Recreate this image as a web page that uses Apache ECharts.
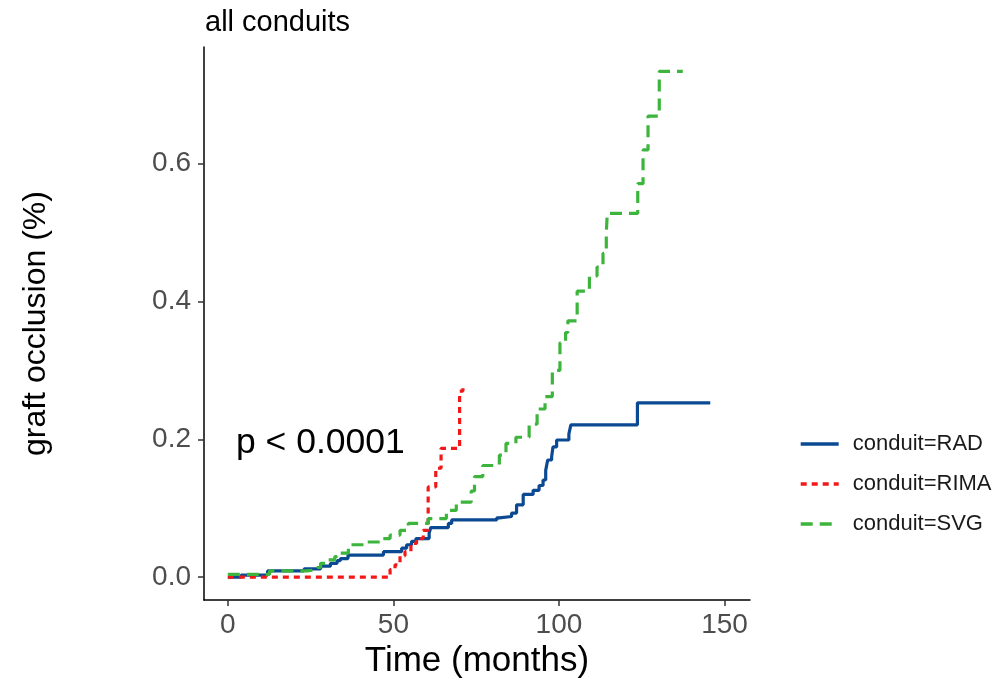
<!DOCTYPE html>
<html>
<head>
<meta charset="utf-8">
<script src="https://cdn.jsdelivr.net/npm/echarts@6/dist/echarts.min.js"></script>
<style>html,body{margin:0;padding:0;background:#fff;}#c{width:993px;height:684px;}</style>
</head>
<body>
<div id="c"></div>
<script>
// Time (months) and cumulative graft occlusion for each conduit
const radT = [0, 4, 12, 23, 28, 31, 33, 34, 36.3, 47, 52.5, 54, 55.5, 56.8, 60.8, 61.3, 66.6, 67.6, 81.2, 82, 85.7, 87.2, 89.2, 92.2, 94, 95.2, 96, 96.6, 97.8, 98.2, 99.3, 103, 103.6, 123.7, 145.7];
const radV = [0, 0.003, 0.009, 0.012, 0.016, 0.02, 0.024, 0.027, 0.032, 0.037, 0.042, 0.047, 0.052, 0.056, 0.064, 0.072, 0.078, 0.083, 0.086, 0.088, 0.093, 0.105, 0.12, 0.126, 0.133, 0.141, 0.155, 0.17, 0.175, 0.189, 0.199, 0.208, 0.221, 0.253, 0.253];
const rimaT = [0, 49, 50.5, 52, 53.5, 55.3, 57, 59, 60.5, 62.8, 64.4, 70, 71];
const rimaV = [0, 0.011, 0.018, 0.031, 0.037, 0.049, 0.056, 0.068, 0.131, 0.158, 0.187, 0.27, 0.279];
const svgT = [0, 12.6, 24, 27, 28, 30, 32.3, 33, 36.4, 41.9, 46.9, 49, 52, 54.5, 60.5, 66, 69, 73.5, 74.5, 77, 82, 84, 87, 91, 93.4, 95.8, 98, 100.3, 102, 102.7, 105.5, 109.2, 111.5, 113.3, 114.3, 114.6, 123.8, 125.4, 126.9, 130.3, 137.4];
const svgV = [0.004, 0.009, 0.011, 0.014, 0.02, 0.025, 0.03, 0.035, 0.047, 0.051, 0.056, 0.061, 0.068, 0.078, 0.085, 0.097, 0.109, 0.125, 0.146, 0.162, 0.177, 0.194, 0.203, 0.222, 0.244, 0.262, 0.30, 0.34, 0.355, 0.372, 0.415, 0.437, 0.45, 0.47, 0.50, 0.528, 0.571, 0.62, 0.669, 0.734, 0.734];
const seriesNames = ['conduit=RAD', 'conduit=RIMA', 'conduit=SVG'];
const xTicks = [0, 50, 100, 150];
const yTicks = [0, 0.2, 0.4, 0.6];

const FONT = 'Liberation Sans, Arial, Helvetica, sans-serif';
const zip = (a, b) => a.map((t, i) => [t, b[i]]);

const chart = echarts.init(document.getElementById('c'), null, {renderer: 'canvas'});
chart.setOption({
  animation: false,
  backgroundColor: '#ffffff',
  title: {
    text: 'all conduits', left: 200, top: 3,
    textStyle: {fontFamily: FONT, fontSize: 29, fontWeight: 'normal', color: '#000'}
  },
  grid: {left: 204, right: 243, top: 47, bottom: 82, containLabel: false},
  legend: {
    orient: 'vertical', left: 794, top: 428,
    itemWidth: 38, itemHeight: 14, itemGap: 18,
    data: seriesNames,
    itemStyle: {opacity: 0},
    lineStyle: {width: 3.4},
    textStyle: {fontFamily: FONT, fontSize: 22, color: '#1a1a1a', padding: [0, 0, 0, 9]}
  },
  xAxis: {
    type: 'value', min: -7.2, max: 157.7,
    name: 'Time (months)', nameLocation: 'middle', nameGap: 41,
    nameTextStyle: {fontFamily: FONT, fontSize: 35, color: '#000'},
    axisLine: {show: true, onZero: false, lineStyle: {color: '#000', width: 1.5}},
    axisTick: {show: true, length: 6, customValues: xTicks, lineStyle: {color: '#333', width: 1.5}},
    axisLabel: {customValues: xTicks, fontFamily: FONT, fontSize: 28, color: '#4D4D4D', margin: 11},
    splitLine: {show: false}
  },
  yAxis: {
    type: 'value', min: -0.0333, max: 0.7693,
    name: 'graft occlusion (%)', nameLocation: 'middle', nameGap: 152, nameRotate: 90,
    nameTextStyle: {fontFamily: FONT, fontSize: 32, color: '#000'},
    axisLine: {show: true, onZero: false, lineStyle: {color: '#000', width: 1.5}},
    axisTick: {show: true, length: 6, customValues: yTicks, lineStyle: {color: '#333', width: 1.5}},
    axisLabel: {customValues: yTicks, fontFamily: FONT, fontSize: 28, color: '#4D4D4D', margin: 13,
      formatter: v => v.toFixed(1)},
    splitLine: {show: false}
  },
  graphic: [{
    type: 'text', left: 236, top: 425,
    style: {text: 'p < 0.0001', font: '35.5px ' + FONT, fill: '#000'}
  }],
  series: [
    {name: seriesNames[0], type: 'line', step: 'end', symbol: 'none', data: zip(radT, radV),
      lineStyle: {color: '#0B4A92', width: 3.2, type: 'solid'}, itemStyle: {color: '#0B4A92'}},
    {name: seriesNames[1], type: 'line', step: 'end', symbol: 'none', data: zip(rimaT, rimaV),
      lineStyle: {color: '#F21818', width: 3.2, type: [6, 5]}, itemStyle: {color: '#F21818'}},
    {name: seriesNames[2], type: 'line', step: 'end', symbol: 'none', data: zip(svgT, svgV),
      lineStyle: {color: '#3DB53D', width: 3.2, type: [12, 7]}, itemStyle: {color: '#3DB53D'}}
  ]
});
</script>
</body>
</html>
